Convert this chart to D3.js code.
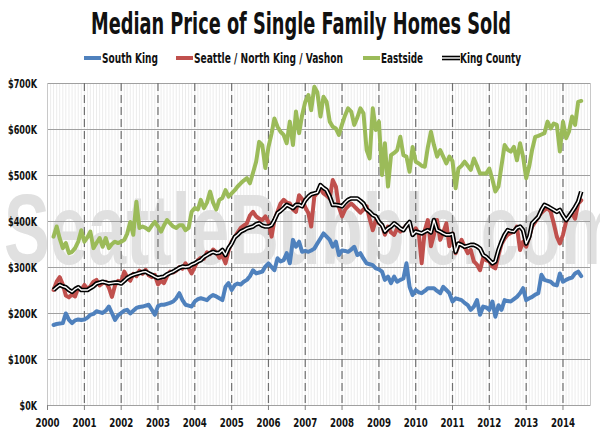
<!DOCTYPE html>
<html><head><meta charset="utf-8">
<script src="https://cdn.jsdelivr.net/npm/d3@7"></script>
<style>
body{margin:0;background:#fff;}
svg{display:block;}
text{font-family:"DejaVu Sans Condensed","Liberation Sans",sans-serif;font-weight:bold;fill:#111;}
</style></head><body><svg id="c" width="600" height="435"></svg>
<script>
const chartTitle = "Median Price of Single Family Homes Sold";
const watermark = "SeattleBubble.com";
const seriesNames = ["South King", "Seattle / North King / Vashon", "Eastside", "King County"];
const seriesColors = ["#4F81BD", "#C0504D", "#9BBB59", "#000000"];
const startYear = 2000, startMonth = 3; // first monthly value: March 2000 (values in $K)

const southKing = [
 174,176,177,178,199,185,178,184,186,185,
 186,190,196,198,204,202,200,205,214,200,185,195,
 200,205,207,199,205,211,213,214,216,218,207,196,
 215,218,218,220,222,225,232,243,228,218,216,214,
 225,230,232,230,228,235,239,236,232,228,257,265,
 250,261,264,262,268,272,280,293,286,288,290,301,
 308,300,293,319,312,315,330,308,359,344,355,333,
 335,333,336,340,351,362,373,366,359,344,355,326,
 336,335,333,338,344,326,330,318,308,306,304,297,
 295,290,272,279,265,279,268,272,275,308,257,239,
 250,245,243,248,254,254,254,248,243,257,250,243,
 225,232,230,228,222,217,207,214,228,196,214,212,
 207,225,192,217,207,228,226,225,230,235,243,254,
 228,232,235,240,243,283,272,270,268,262,260,286,
 268,272,275,277,286,290,280];

const seattle = [
 250,268,278,262,238,234,240,236,255,250,
 261,252,258,268,272,260,265,268,255,235,260,270,
 268,290,278,270,285,280,292,285,294,282,278,283,
 262,270,265,280,290,288,292,300,296,308,298,286,
 300,315,320,318,332,328,338,332,320,325,308,335,
 355,365,375,385,390,395,412,420,410,405,402,410,
 398,366,402,420,438,446,440,438,425,420,456,448,
 430,417,388,453,462,470,460,455,449,489,475,430,
 410,425,432,438,432,425,418,425,432,405,380,402,
 395,391,370,388,375,370,384,377,384,390,395,370,
 384,372,308,380,402,345,370,402,359,375,395,345,
 373,330,345,359,344,330,337,312,305,293,320,315,
 312,301,297,326,350,362,370,374,377,388,337,355,
 344,366,388,398,409,418,424,428,420,395,366,351,
 370,399,410,417,405,438,445];

const eastside = [
 366,388,362,341,352,330,333,341,355,380,
 355,365,377,341,352,363,344,363,341,350,355,352,
 355,359,372,398,370,442,385,388,385,380,390,398,
 388,377,390,402,395,388,385,391,391,380,385,420,
 428,425,446,428,440,464,440,425,446,450,467,453,
 460,467,475,482,488,493,482,505,529,572,565,515,
 561,590,623,605,594,587,569,616,565,638,591,630,
 659,674,641,692,680,627,670,659,616,605,601,587,
 610,630,645,638,609,625,645,634,554,536,645,598,
 616,500,569,475,543,548,554,583,543,540,507,561,
 529,525,520,518,560,594,565,540,554,540,525,540,
 530,471,514,520,529,520,511,536,520,503,503,503,
 514,490,464,475,520,565,555,551,561,532,569,540,
 493,520,555,583,585,588,591,616,601,612,609,551,
 616,580,594,627,609,659,661];

const kingCounty = [
 250,256,261,258,256,250,246,252,256,250,
 250,250,254,258,264,266,268,266,264,265,266,266,
 264,270,276,280,283,285,287,289,290,286,283,279,
 276,278,279,284,287,290,294,298,301,300,301,305,
 308,312,315,322,326,330,333,330,331,337,326,341,
 351,365,370,377,380,384,386,388,393,395,390,388,
 388,391,402,417,422,428,435,432,428,435,435,432,
 445,453,458,460,462,478,472,467,453,435,435,434,
 432,440,446,449,449,449,444,438,425,420,413,410,
 398,391,377,384,388,395,390,384,380,390,398,370,
 377,375,373,377,380,375,402,380,377,373,370,370,
 372,333,351,348,344,346,348,348,345,340,326,322,
 315,308,312,337,355,370,380,378,377,385,388,380,
 351,366,395,402,409,424,435,432,428,424,420,424,
 412,402,410,420,430,442,464];

const yTickValues = [0,100,200,300,400,500,600,700];
const yTickLabels = ["$0K","$100K","$200K","$300K","$400K","$500K","$600K","$700K"];
const xTickLabels = ["2000","2001","2002","2003","2004","2005","2006","2007","2008","2009","2010","2011","2012","2013","2014"];

const svg = d3.select("#c");
const plot = {left: 47.5, right: 590.5, top: 83, bottom: 405};

const x = d3.scaleTime()
  .domain([new Date(2000,0,1), new Date(2014,9,1)])
  .range([plot.left, plot.right]);
const y = d3.scaleLinear().domain([0,700]).range([plot.bottom, plot.top]);

const toDate = i => new Date(startYear, startMonth - 1 + i, 1);
const mk = arr => arr.map((v,i) => ({d: toDate(i), v}));
const series = [southKing, seattle, eastside, kingCounty].map(mk);

// minor monthly gridlines
svg.append("g").selectAll("line")
  .data(d3.timeMonth.range(new Date(2000,1,1), new Date(2014,9,1)))
  .join("line")
  .attr("x1", d => x(d)).attr("x2", d => x(d))
  .attr("y1", plot.top).attr("y2", plot.bottom)
  .attr("stroke", "#ececec").attr("stroke-width", 1);

// watermark
svg.append("text")
  .attr("x", 4).attr("y", 264)
  .attr("textLength", 618).attr("lengthAdjust", "spacingAndGlyphs")
  .style("font-family", "'Liberation Sans',Arial,sans-serif")
  .style("font-weight", "bold")
  .style("font-size", "100px")
  .style("fill", "#e0e0e0")
  .text(watermark);

// horizontal gridlines
svg.append("g").selectAll("line").data(yTickValues).join("line")
  .attr("x1", plot.left).attr("x2", plot.right)
  .attr("y1", d => Math.round(y(d)) + 0.5).attr("y2", d => Math.round(y(d)) + 0.5)
  .attr("stroke", "#a0a0a0").attr("stroke-width", 1);

// plot side borders
svg.append("g").selectAll("line").data([plot.left, plot.right]).join("line")
  .attr("x1", d => d).attr("x2", d => d)
  .attr("y1", plot.top).attr("y2", plot.bottom)
  .attr("stroke", "#c8c8c8");

// yearly dashed lines + ticks
const years = xTickLabels.map(s => new Date(+s, 0, 1));
svg.append("g").selectAll("line").data(years.slice(1)).join("line")
  .attr("x1", d => x(d)).attr("x2", d => x(d))
  .attr("y1", plot.top).attr("y2", plot.bottom)
  .attr("stroke", "#707070").attr("stroke-width", 1.2)
  .attr("stroke-dasharray", "8,4");
svg.append("g").selectAll("line").data(years).join("line")
  .attr("x1", d => x(d)).attr("x2", d => x(d))
  .attr("y1", plot.bottom).attr("y2", plot.bottom + 5)
  .attr("stroke", "#808080");

// axis labels
svg.append("g").selectAll("text").data(yTickValues).join("text")
  .attr("x", 37).attr("y", d => y(d)).attr("dy", "0.36em")
  .attr("text-anchor", "end").style("font-size", "13px")
  .attr("textLength", (d,i) => yTickLabels[i].length * 5.8)
  .attr("lengthAdjust", "spacingAndGlyphs")
  .text((d,i) => yTickLabels[i]);
svg.append("g").selectAll("text").data(years).join("text")
  .attr("x", d => x(d)).attr("y", 427)
  .attr("text-anchor", "middle").style("font-size", "13px")
  .attr("textLength", 24).attr("lengthAdjust", "spacingAndGlyphs")
  .text((d,i) => xTickLabels[i]);

// series lines
const line = d3.line().x(d => x(d.d)).y(d => y(d.v)).curve(d3.curveLinear);
[0,1,2].forEach(k => {
  svg.append("path").datum(series[k]).attr("d", line)
    .attr("fill", "none").attr("stroke", seriesColors[k])
    .attr("stroke-width", 4).attr("stroke-linejoin", "round").attr("stroke-linecap", "round");
});
svg.append("path").datum(series[3]).attr("d", line)
  .attr("fill", "none").attr("stroke", "#000").attr("stroke-width", 4.6)
  .attr("stroke-linejoin", "round");
svg.append("path").datum(series[3]).attr("d", line)
  .attr("fill", "none").attr("stroke", "#fff").attr("stroke-width", 1.4)
  .attr("stroke-linejoin", "round");

// title
svg.append("text").attr("x", 301).attr("y", 34)
  .attr("text-anchor", "middle")
  .attr("textLength", 420).attr("lengthAdjust", "spacingAndGlyphs")
  .style("font-size", "30px").style("font-weight", "bold")
  .text(chartTitle);

// legend
const legendX = [84, 176, 363, 442];
const legendW = [56, 149, 42, 61];
const ly = 58;
seriesNames.forEach((name, k) => {
  const g = svg.append("g");
  if (k < 3) {
    g.append("line").attr("x1", legendX[k]).attr("x2", legendX[k] + 17)
      .attr("y1", ly).attr("y2", ly).attr("stroke", seriesColors[k]).attr("stroke-width", 4);
  } else {
    g.append("line").attr("x1", legendX[k]).attr("x2", legendX[k] + 18)
      .attr("y1", ly).attr("y2", ly).attr("stroke", "#000").attr("stroke-width", 4.6);
    g.append("line").attr("x1", legendX[k]).attr("x2", legendX[k] + 18)
      .attr("y1", ly).attr("y2", ly).attr("stroke", "#fff").attr("stroke-width", 1.4);
  }
  g.append("text").attr("x", legendX[k] + 18).attr("y", ly).attr("dy", "0.36em")
    .attr("textLength", legendW[k]).attr("lengthAdjust", "spacingAndGlyphs")
    .style("font-size", "14px").text(name);
});
</script></body></html>
